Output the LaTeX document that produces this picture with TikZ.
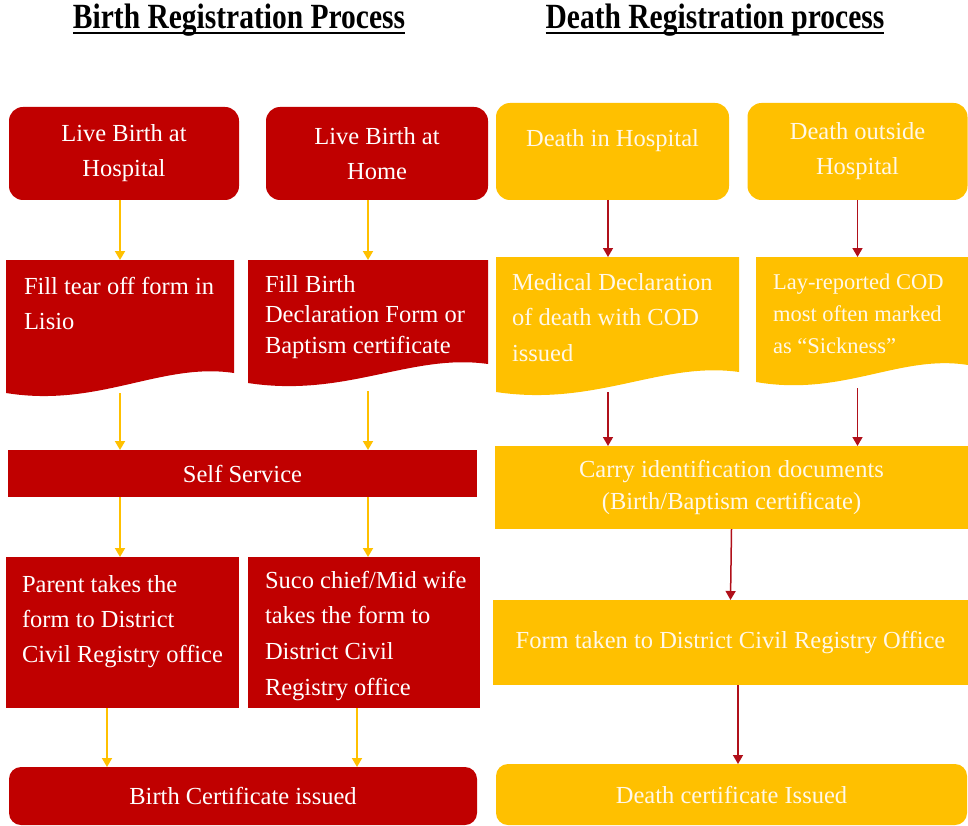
\documentclass[tikz,border=0pt]{standalone}
\usepackage{fontspec}
\setmainfont{Liberation Serif}
\usetikzlibrary{arrows.meta,calc}
\definecolor{bred}{HTML}{C00000}
\definecolor{byel}{HTML}{FFC000}
\definecolor{darr}{HTML}{B0101A}
\definecolor{cream}{HTML}{FFF8E8}
\newcommand\bodyfont{\fontsize{24.5}{35}\selectfont}
\begin{document}
\begin{tikzpicture}[x=1pt,y=-1pt,
  box/.style={inner sep=0pt, outer sep=0pt, align=center, font=\bodyfont},
  redbox/.style={box, fill=bred, text=white},
  yelbox/.style={box, fill=byel, text=cream},
  ghost/.style={inner sep=0pt, outer sep=0pt},
  wtext/.style={inner sep=0pt, outer sep=0pt, align=left, font=\bodyfont, text=white, anchor=north west},
  ctext/.style={wtext, text=cream},
  yarr/.style={draw=byel, line width=1.8pt, -{Triangle[width=10pt,length=9pt]}},
  rarr/.style={draw=darr, line width=1.5pt, -{Triangle[width=10pt,length=9pt]}},
  title/.style={inner sep=0pt, outer sep=0pt, font=\bfseries\fontsize{29.5}{32}\selectfont, anchor=base},
]
\useasboundingbox (0,0) rectangle (968,826);

% titles
\node[title] (t1) at (239,29) {\scalebox{1}[1.2]{Birth Registration Process}};
\node[title] (t2) at (715,29) {\scalebox{1}[1.2]{Death Registration process}};
\draw[line width=2.6pt] ([yshift=-4pt]t1.base west) -- ([yshift=-4pt]t1.base east);
\draw[line width=2.6pt] ([yshift=-4pt]t2.base west) -- ([yshift=-4pt]t2.base east);

% ---------- Birth ----------
\node[redbox, rounded corners=14pt, minimum width=230pt, minimum height=93pt] (b1) at (124,153.5) {Live Birth at\\Hospital};
\node[redbox, rounded corners=14pt, minimum width=222pt, minimum height=93pt] (b2) at (377,153.5) {Live Birth at\\Home};

\node[ghost, minimum width=228pt, minimum height=133pt] (f1) at (120,326.5) {};
\node[ghost, minimum width=240pt, minimum height=123pt] (f2) at (368,321.5) {};
\fill[bred] (f1.north west) -- (f1.north east) -- (234,373) .. controls (161,362) and (99,408) .. (6,393) -- cycle;
\fill[bred] (f2.north west) -- (f2.north east) -- (488,364) .. controls (411,353) and (346,398) .. (248,383) -- cycle;
\node[wtext] (f1t) at (24,277) {Fill tear off form in\\Lisio};
\node[wtext, font=\fontsize{24.5}{30.5}\selectfont] (f2t) at (265,275) {Fill Birth\\Declaration Form or\\Baptism certificate};

\node[redbox, minimum width=469pt, minimum height=47pt] (self) at (242.5,473.5) {Self Service};

\node[redbox, minimum width=233pt, minimum height=151pt] (p1) at (122.5,632.5) {};
\node[redbox, minimum width=232pt, minimum height=151pt] (p2) at (364,632.5) {};
\node[wtext] (p1t) at (22,575) {Parent takes the\\form to District\\Civil Registry office};
\node[wtext, font=\fontsize{24.5}{35.7}\selectfont] (p2t) at (265,571) {Suco chief/Mid wife\\takes the form to\\District Civil\\Registry office};

\node[redbox, rounded corners=12pt, minimum width=468pt, minimum height=58pt] (bc) at (243,796) {Birth Certificate issued};

\draw[yarr] (b1.south -| f1.north) -- (f1.north);
\draw[yarr] (b2.south -| f2.north) -- (f2.north);
\draw[yarr] (f1.south) -- (self.north -| f1.south);
\draw[yarr] ([yshift=-8pt]f2.south) -- (self.north -| f2.south);
\draw[yarr] (self.south -| f1.south) -- (p1.north -| f1.south);
\draw[yarr] (self.south -| f2.south) -- (p2.north -| f2.south);
\draw[yarr] ([xshift=-15.5pt]p1.south) -- ([xshift=-15.5pt]p1.south |- bc.north);
\draw[yarr] ([xshift=-7pt]p2.south) -- ([xshift=-7pt]p2.south |- bc.north);

% ---------- Death ----------
\node[yelbox, rounded corners=14pt, minimum width=233pt, minimum height=97pt] (d1) at (612.5,151.5) {};
\node[ctext, anchor=center] (d1t) at ([yshift=11pt]d1.center) {Death in Hospital};
\node[yelbox, rounded corners=14pt, minimum width=220pt, minimum height=97pt] (d2) at (857.5,151.5) {Death outside\\Hospital};

\node[ghost, minimum width=243pt, minimum height=135pt] (m1) at (617.5,324.5) {};
\node[ghost, minimum width=212pt, minimum height=125pt] (m2) at (862,319.5) {};
\fill[byel] (m1.north west) -- (m1.north east) -- (739,372) .. controls (661,361) and (596,407) .. (496,392) -- cycle;
\fill[byel] (m2.north west) -- (m2.north east) -- (968,365) .. controls (900,354) and (843,397) .. (756,382) -- cycle;
\node[ctext, font=\fontsize{24.5}{35.5}\selectfont] (m1t) at (512,273) {Medical Declaration\\of death with COD\\issued};
\node[ctext, font=\fontsize{22.5}{32}\selectfont] (m2t) at (773,274) {Lay-reported COD\\most often marked\\as “Sickness”};

\node[yelbox, minimum width=473pt, minimum height=83pt, font=\fontsize{24.5}{32}\selectfont] (carry) at (731.5,487.5) {Carry identification documents\\(Birth/Baptism certificate)};
\node[yelbox, minimum width=475pt, minimum height=85pt] (form) at (730.5,642.5) {Form taken to District Civil Registry Office};
\node[yelbox, rounded corners=12pt, minimum width=471pt, minimum height=61pt] (dc) at (731.5,794.5) {Death certificate Issued};

\draw[rarr] ([xshift=-4.5pt]d1.south) -- ([xshift=-4.5pt]d1.south |- m1.north);
\draw[rarr] (d2.south) -- (d2.south |- m2.north);
\draw[rarr] ([xshift=-4.5pt]d1.south |- m1.south) -- ([xshift=-4.5pt]d1.south |- carry.north);
\draw[rarr] ([yshift=-6pt]d2.south |- m2.south) -- (d2.south |- carry.north);
\draw[rarr] (carry.south) -- (form.north);
\draw[rarr] ([xshift=7.5pt]form.south) -- ([xshift=7.5pt]form.south |- dc.north);
\end{tikzpicture}
\end{document}
